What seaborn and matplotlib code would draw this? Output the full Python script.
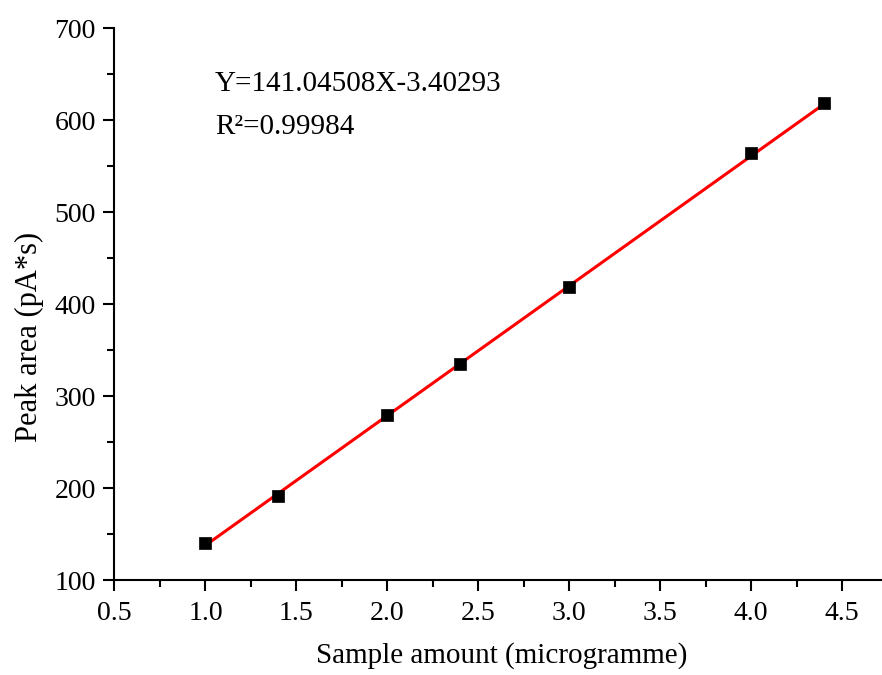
"""
Calibration curve: peak area vs. sample amount, with the linear fit.
"""
import numpy as np
import pandas as pd
import matplotlib
matplotlib.use("Agg")
import matplotlib.pyplot as plt
import seaborn as sns
from matplotlib.ticker import MultipleLocator

# ---- data ----
sample_amount = [1.0, 1.4, 2.0, 2.4, 3.0, 4.0, 4.4]
peak_area = [140.5, 191.5, 279.0, 335.0, 419.0, 564.0, 618.0]

slope = 141.04508
intercept = -3.40293
r_squared = 0.99984

x_label = "Sample amount (microgramme)"
y_label = "Peak area (pA*s)"

df = pd.DataFrame({"x": sample_amount, "y": peak_area})
df["fit"] = slope * df["x"] + intercept

sns.set_style("ticks")
plt.rcParams["font.family"] = ["Liberation Serif", "DejaVu Serif"]
plt.rcParams["axes.linewidth"] = 1.5
plt.rcParams["text.color"] = "black"
plt.rcParams["axes.labelcolor"] = "black"

fig = plt.figure(figsize=(8.82, 6.75), dpi=100)
ax = fig.add_axes([114.5 / 882, 1 - 580 / 675, 1 - 114.5 / 882, (580 - 28) / 675])

sns.lineplot(data=df, x="x", y="fit", ax=ax, color="red", linewidth=2.2, zorder=2)
sns.scatterplot(data=df, x="x", y="y", ax=ax, marker="s", s=85, color="black",
                edgecolor="black", linewidth=0.5, zorder=3)

ax.set_xlim(0.5, 4.72)
ax.set_ylim(100, 700)
ax.xaxis.set_major_locator(MultipleLocator(0.5))
ax.xaxis.set_minor_locator(MultipleLocator(0.25))
ax.yaxis.set_major_locator(MultipleLocator(100))
ax.yaxis.set_minor_locator(MultipleLocator(50))
ax.tick_params(which="major", direction="out", length=8, width=1.5, labelsize=20,
               color="black", labelcolor="black")
ax.tick_params(which="minor", direction="out", length=5, width=1.5, color="black")
ax.tick_params(axis="x", which="major", pad=7)
ax.tick_params(axis="y", which="major", pad=5.5)
ax.set_xticklabels([f"{v:.1f}" for v in ax.get_xticks()])

for side in ["top", "right"]:
    ax.spines[side].set_visible(False)
for side in ["left", "bottom"]:
    ax.spines[side].set_color("black")

ax.set_xlabel(x_label, fontsize=21)
ax.set_ylabel(y_label, fontsize=22)
ax.xaxis.set_label_coords(0.504, -0.113)
ax.yaxis.set_label_coords(-0.092, 0.44)

ax.text(1.052, 631, f"Y={slope:.5f}X{intercept:.5f}", fontsize=21, va="baseline")
ax.text(1.052, 585, f"R²={r_squared:.5f}", fontsize=21, va="baseline")

fig.savefig("out.png", dpi=100)
